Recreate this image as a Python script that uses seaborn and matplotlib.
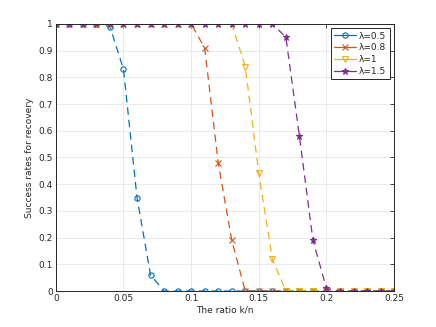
import numpy as np
import pandas as pd
import seaborn as sns
import matplotlib.pyplot as plt

# ratio k/n sampled at 0.00, 0.01, ..., 0.25
ratio = [round(0.01 * i, 2) for i in range(26)]

# success rates
rate_05 = [1, 1, 1, 1, 0.99, 0.83, 0.35, 0.06, 0, 0, 0, 0, 0, 0, 0, 0, 0, 0, 0, 0, 0, 0, 0, 0, 0, 0]
rate_08 = [1, 1, 1, 1, 1, 1, 1, 1, 1, 1, 1, 0.91, 0.48, 0.19, 0, 0, 0, 0, 0, 0, 0, 0, 0, 0, 0, 0]
rate_10 = [1, 1, 1, 1, 1, 1, 1, 1, 1, 1, 1, 1, 1, 1, 0.84, 0.44, 0.12, 0, 0, 0, 0, 0, 0, 0, 0, 0]
rate_15 = [1, 1, 1, 1, 1, 1, 1, 1, 1, 1, 1, 1, 1, 1, 1, 1, 1, 0.95, 0.58, 0.19, 0.01, 0, 0, 0, 0, 0]

labels = ['\u03bb=0.5', '\u03bb=0.8', '\u03bb=1', '\u03bb=1.5']
colors = ['#0072BD', '#D95319', '#EDB120', '#7E2F8E']
markers = ['o', 'x', 'v', '*']

df = pd.DataFrame({'ratio': ratio * 4,
                   'rate': rate_05 + rate_08 + rate_10 + rate_15,
                   'lam': sum([[l] * len(ratio) for l in labels], [])})

sns.set_style('whitegrid')
plt.rcParams['font.family'] = ['DejaVu Sans']

fig = plt.figure(figsize=(4.36, 3.27), dpi=100)
ax = fig.add_axes([0.128, 0.110, 0.776, 0.817])

for lab, c, m in zip(labels, colors, markers):
    sub = df[df['lam'] == lab]
    filled = m in ('x', '*')
    sns.lineplot(x='ratio', y='rate', data=sub, ax=ax, color=c, label=lab,
                 linestyle=(0, (6, 4)), linewidth=0.9, marker=m,
                 markersize=4.5 if m == '*' else 3.8,
                 markerfacecolor=c if filled else 'none', markeredgecolor=c,
                 markeredgewidth=0.8)

ax.set_xlim(0, 0.25)
ax.set_ylim(0, 1)
ax.set_xticks([0, 0.05, 0.1, 0.15, 0.2, 0.25])
ax.set_xticklabels(['0', '0.05', '0.1', '0.15', '0.2', '0.25'])
ax.set_yticks([i / 10 for i in range(11)])
ax.set_yticklabels(['0'] + ['0.%d' % i for i in range(1, 10)] + ['1'])
ax.tick_params(direction='in', length=3, width=0.6, labelsize=6.5, colors='#262626',
               top=True, right=True, pad=2)
ax.tick_params(labeltop=False, labelright=False)
ax.grid(True, color='#e6e6e6', linewidth=0.6)
for s in ax.spines.values():
    s.set_color('#262626')
    s.set_linewidth(0.7)
ax.set_xlabel('The ratio k/n', fontsize=6.5, labelpad=2, color='#262626')
ax.set_ylabel('Success rates for recovery', fontsize=6.5, labelpad=3, color='#262626')

leg = ax.legend(loc='upper right', fontsize=6.5, frameon=True, fancybox=False,
                edgecolor='#262626', framealpha=1, handlelength=2.4,
                borderpad=0.35, labelspacing=0.3, handletextpad=0.4)
leg.get_frame().set_linewidth(0.7)
for h in leg.get_lines():
    h.set_linestyle('-')

fig.savefig('out.png', dpi=100)
